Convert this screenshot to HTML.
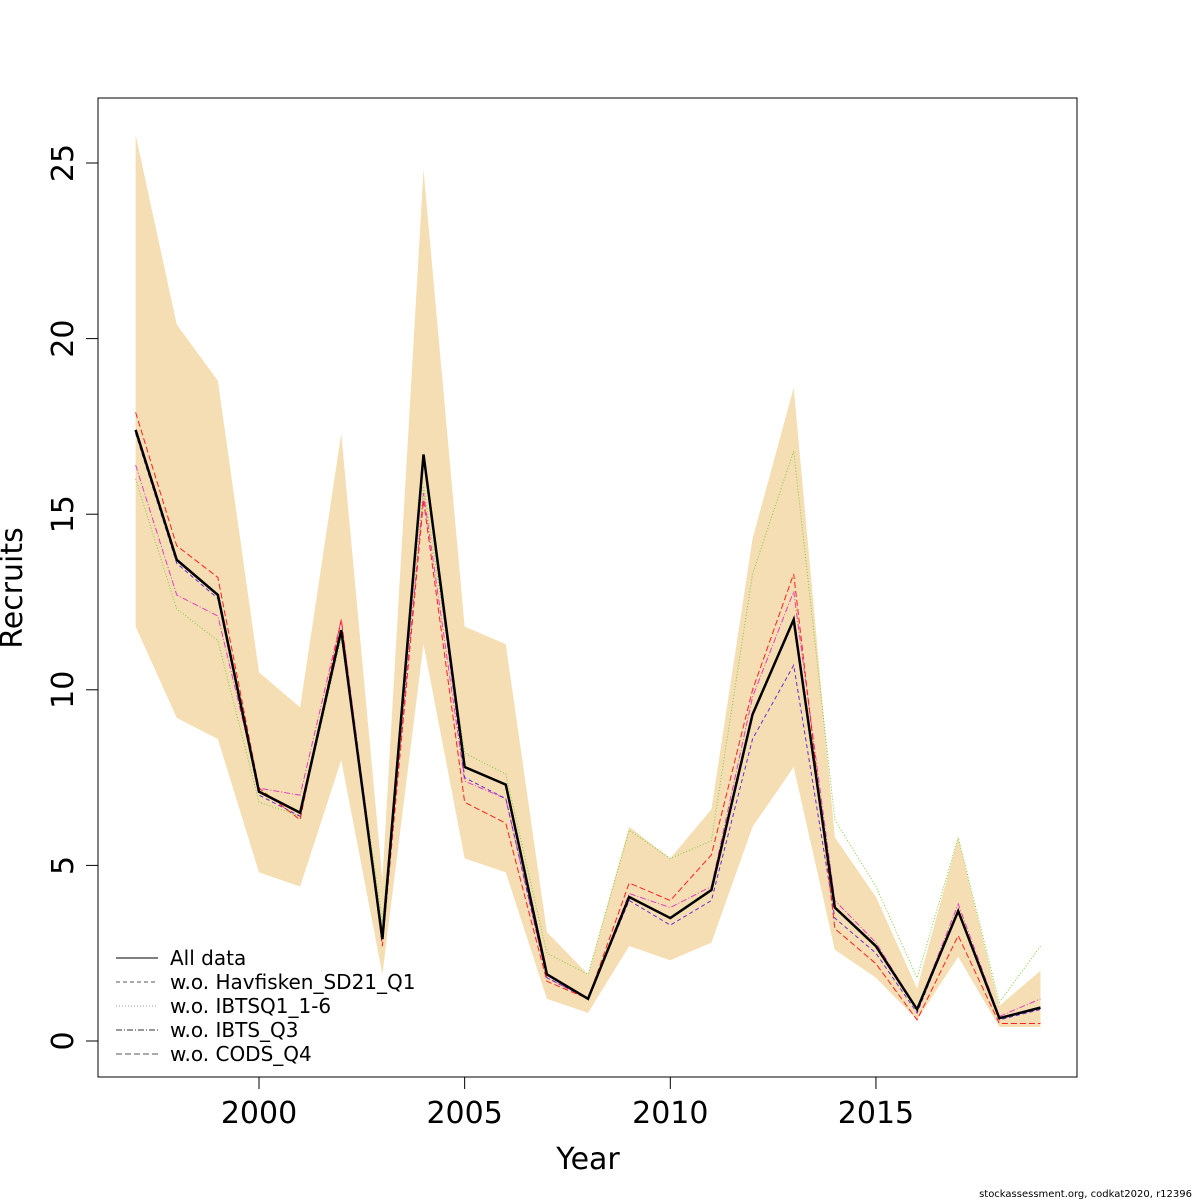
<!DOCTYPE html>
<html><head><meta charset="utf-8"><style>
html,body{margin:0;padding:0;background:#fff;}
svg{display:block;font-family:"DejaVu Sans","Liberation Sans",sans-serif;}
</style></head><body>
<svg id="chart" width="1200" height="1200" viewBox="0 0 1200 1200"></svg>
<script>
const years=[1997,1998,1999,2000,2001,2002,2003,2004,2005,2006,2007,2008,2009,2010,2011,2012,2013,2014,2015,2016,2017,2018,2019];
const allData=[17.4,13.7,12.7,7.1,6.5,11.7,2.9,16.7,7.8,7.3,1.9,1.2,4.1,3.5,4.3,9.3,12.0,3.8,2.7,0.9,3.7,0.65,0.95];
const upper=[25.8,20.4,18.8,10.5,9.5,17.3,4.6,24.8,11.8,11.3,3.1,1.9,6.1,5.2,6.6,14.3,18.6,5.8,4.1,1.5,5.8,1.0,2.0];
const lower=[11.8,9.2,8.6,4.8,4.4,8.0,1.9,11.3,5.2,4.8,1.2,0.8,2.7,2.3,2.8,6.1,7.8,2.6,1.8,0.6,2.4,0.4,0.4];
const woHav=[17.3,13.6,12.6,7.0,6.4,11.6,2.9,16.6,7.5,6.9,1.8,1.2,4.0,3.3,4.0,8.6,10.7,3.5,2.5,0.8,3.7,0.6,0.9];
const woIBTSQ1=[16.0,12.3,11.4,6.8,6.4,11.5,3.4,15.8,8.2,7.6,2.5,1.9,6.0,5.2,5.7,13.3,16.8,6.3,4.4,1.8,5.8,1.1,2.7];
const woIBTSQ3=[16.4,12.7,12.1,7.2,7.0,12.0,3.0,15.6,7.4,6.9,1.8,1.2,4.2,3.8,4.4,9.8,12.8,4.0,2.8,0.9,3.9,0.7,1.2];
const woCODS=[17.9,14.1,13.2,7.2,6.3,12.0,2.7,15.4,6.8,6.2,1.7,1.2,4.5,4.0,5.3,10.0,13.3,3.2,2.2,0.6,3.0,0.5,0.5];
const xTicks=[2000,2005,2010,2015];
const yTicks=[0,5,10,15,20,25];
const legendLabels=["All data","w.o. Havfisken_SD21_Q1","w.o. IBTSQ1_1-6","w.o. IBTS_Q3","w.o. CODS_Q4"];

const svg=document.getElementById('chart');
const NS='http://www.w3.org/2000/svg';
const xs=y=>259+(y-2000)*41.13;
const ys=v=>1041-v*35.12;
function mk(tag,attrs,parent){const e=document.createElementNS(NS,tag);for(const k in attrs)e.setAttribute(k,attrs[k]);(parent||svg).appendChild(e);return e;}

let d=years.map((y,i)=>(i?'L':'M')+xs(y)+','+ys(upper[i])).join('');
for(let i=years.length-1;i>=0;i--)d+='L'+xs(years[i])+','+ys(lower[i]);
const band=mk('path',{d:d+'Z',fill:'#f5deb3'});



function line(vals,stroke,w,dash,name){
  const p=mk('path',{d:years.map((y,i)=>(i?'L':'M')+xs(y)+','+ys(vals[i])).join(''),fill:'none',stroke:stroke,'stroke-width':w,'stroke-dasharray':dash||'none'});
  
  
}
line(woIBTSQ1,'#7ccd3c',1,'1,2','line-wo-ibtsq1');
line(woIBTSQ3,'#e040c0',1,'6,2,1,2','line-wo-ibts-q3');
line(woHav,'#6a2bd0',1,'4,3','line-wo-havfisken');
line(woCODS,'#ff2020',1,'6,3','line-wo-cods-q4');
line(allData,'#000',2.5,null,'line-all-data');

const box=mk('rect',{x:98,y:98,width:979,height:979,fill:'none',stroke:'#000','stroke-width':1});



xTicks.forEach(t=>{
  mk('line',{x1:xs(t),x2:xs(t),y1:1077,y2:1089,stroke:'#000'});
  const tx=mk('text',{x:xs(t),y:1123,'font-size':30,'text-anchor':'middle'});tx.textContent=t;
  
  
});
mk('line',{x1:xs(2000),x2:xs(2015),y1:1077,y2:1077,stroke:'#000'});
yTicks.forEach(t=>{
  mk('line',{x1:86,x2:98,y1:ys(t),y2:ys(t),stroke:'#000'});
  const tx=mk('text',{x:73,y:ys(t),'font-size':30,'text-anchor':'middle',transform:`rotate(-90 73 ${ys(t)})`});tx.textContent=t;
  
  
});
const xt=mk('text',{x:588,y:1169,'font-size':30,'text-anchor':'middle'});xt.textContent='Year';


const yt=mk('text',{x:22,y:588,'font-size':30,'text-anchor':'middle',transform:'rotate(-90 22 588)'});yt.textContent='Recruits';



const lstyles=[['#000','none'],['#555','4,3'],['#999','1,2'],['#333','6,2,1,2'],['#555','6,3']];
legendLabels.forEach((l,i)=>{
  const y=958+i*24;
  mk('line',{x1:116,x2:158,y1:y,y2:y,stroke:lstyles[i][0],'stroke-dasharray':lstyles[i][1]});
  const t=mk('text',{x:170,y:y+7,'font-size':20});t.textContent=l;
  
  
});
const c=mk('text',{x:1192,y:1197,'font-size':10,'text-anchor':'end'});c.textContent='stockassessment.org, codkat2020, r12396';


</script>
</body></html>
